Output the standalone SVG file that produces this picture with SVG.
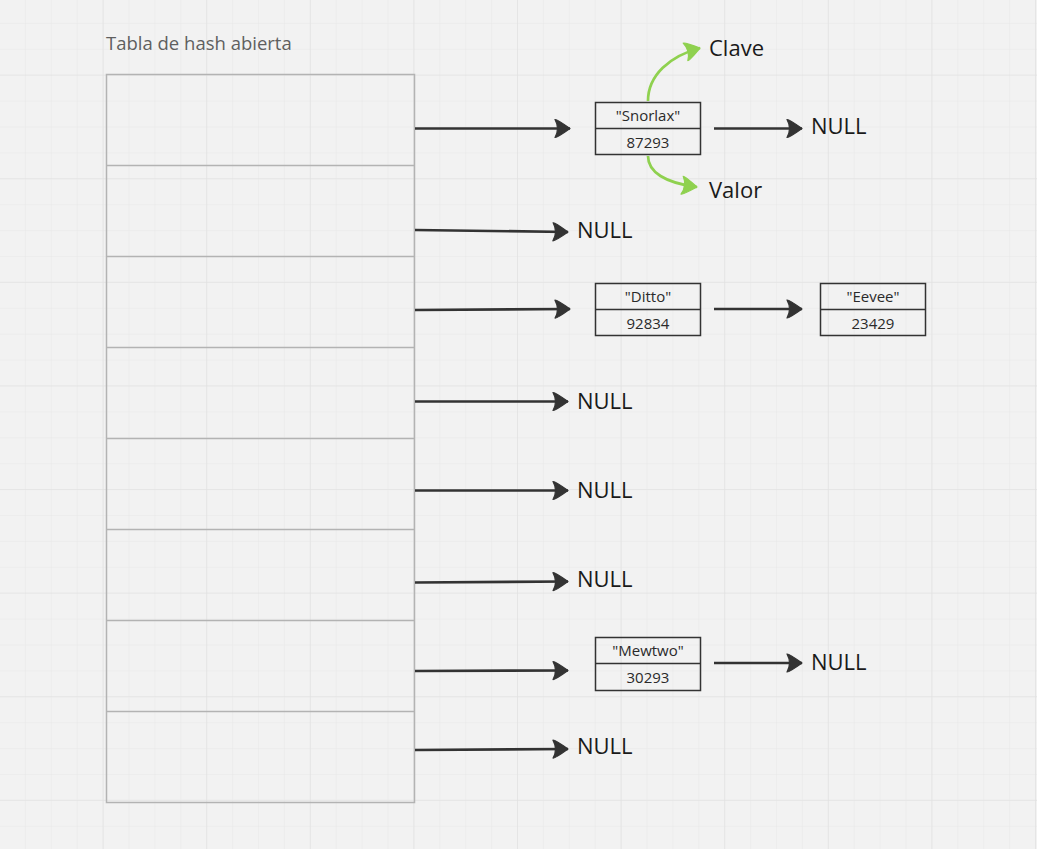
<svg xmlns="http://www.w3.org/2000/svg" width="1037" height="849" viewBox="0 0 1037 849">
<defs>
<pattern id="minor" width="25.9" height="25.9" patternUnits="userSpaceOnUse" x="0" y="-2">
<path d="M25.9 0V25.9M0 25.9H25.9" fill="none" stroke="#e8e8e8" stroke-width="1"/>
</pattern>
<pattern id="major" width="103.6" height="103.6" patternUnits="userSpaceOnUse" x="0" y="-28">
<path d="M103.6 0V103.6M0 103.6H103.6" fill="none" stroke="#e0e0e0" stroke-width="1.2"/>
</pattern>
<marker id="ah" markerUnits="userSpaceOnUse" markerWidth="20" markerHeight="22" refX="16" refY="10" orient="auto" viewBox="-1 -1 20 22">
<path d="M1 1Q2 0 16 10Q2 20 1 19Q6 10 1 1Z" fill="#333" stroke="#333" stroke-width="1.2" stroke-linejoin="round"/>
</marker>
<marker id="ahg" markerUnits="userSpaceOnUse" markerWidth="20" markerHeight="22" refX="16" refY="10" orient="auto" viewBox="-1 -1 20 22">
<path d="M1 1Q2 0 16 10Q2 20 1 19Q6 10 1 1Z" fill="#8fd14f" stroke="#8fd14f" stroke-width="1.2" stroke-linejoin="round"/>
</marker>
</defs>
<style>
.cell{fill:none;stroke:#b3b3b3;stroke-width:1.5}
.box{fill:none;stroke:#333;stroke-width:1.5}
.lbl{font-family:"Open Sans","Noto Sans",sans-serif;font-size:15px;fill:#2a2a2a;text-anchor:middle}
.nul{font-family:"Open Sans","Noto Sans",sans-serif;font-size:22px;fill:#1a1a1a}
.title{font-family:"Open Sans","Noto Sans",sans-serif;font-size:18.5px;fill:#5f5f5f}
.arr{fill:none;stroke:#333;stroke-width:2.7;marker-end:url(#ah)}
.garr{fill:none;stroke:#8fd14f;stroke-width:2.7;marker-end:url(#ahg)}
</style>
<rect width="1037" height="849" fill="#f2f2f2"/>
<rect width="1037" height="849" fill="url(#minor)"/>
<rect width="1037" height="849" fill="url(#major)"/>
<text class="title" x="106" y="50">Tabla de hash abierta</text>
<g id="table">
<rect class="cell" x="106.5" y="74.5" width="308" height="728"/>
<path class="cell" d="M106.5 165.5H414.5M106.5 256.5H414.5M106.5 347.5H414.5M106.5 438.5H414.5M106.5 529.5H414.5M106.5 620.5H414.5M106.5 711.5H414.5"/>
</g>
<g id="node-snorlax">
<rect class="box" x="595.5" y="102.5" width="105" height="52"/>
<line class="box" x1="595.5" y1="128.5" x2="700.5" y2="128.5" stroke-width="2"/>
<text class="lbl" x="648" y="121">"Snorlax"</text>
<text class="lbl" x="648" y="148">87293</text>
</g>
<g id="node-ditto">
<rect class="box" x="595.5" y="283.5" width="105" height="52"/>
<line class="box" x1="595.5" y1="309.5" x2="700.5" y2="309.5" stroke-width="2"/>
<text class="lbl" x="648" y="302">"Ditto"</text>
<text class="lbl" x="648" y="329">92834</text>
</g>
<g id="node-eevee">
<rect class="box" x="820.5" y="283.5" width="105" height="52"/>
<line class="box" x1="820.5" y1="309.5" x2="925.5" y2="309.5" stroke-width="2"/>
<text class="lbl" x="873" y="302">"Eevee"</text>
<text class="lbl" x="873" y="329">23429</text>
</g>
<g id="node-mewtwo">
<rect class="box" x="595.5" y="637.5" width="105" height="53"/>
<line class="box" x1="595.5" y1="663.5" x2="700.5" y2="663.5" stroke-width="2"/>
<text class="lbl" x="648" y="656">"Mewtwo"</text>
<text class="lbl" x="648" y="683">30293</text>
</g>
<g id="labels">
<text class="nul" x="811" y="134">NULL</text>
<text class="nul" x="577" y="238">NULL</text>
<text class="nul" x="577" y="409">NULL</text>
<text class="nul" x="577" y="498">NULL</text>
<text class="nul" x="577" y="587">NULL</text>
<text class="nul" x="811" y="670">NULL</text>
<text class="nul" x="577" y="754">NULL</text>
<text class="nul" x="709" y="56">Clave</text>
<text class="nul" x="709" y="198">Valor</text>
</g>
<g id="connectors">
<path class="arr" d="M415 128.5L570 128.5"/>
<path class="arr" d="M415 230L568 232"/>
<path class="arr" d="M415 310L570 309"/>
<path class="arr" d="M415 401.5L568 401.5"/>
<path class="arr" d="M415 490.5L568 490.5"/>
<path class="arr" d="M415 582.5L568 581.5"/>
<path class="arr" d="M415 671L568 670.5"/>
<path class="arr" d="M415 750L568 749"/>
<path class="arr" d="M714 128.5L802 128.5"/>
<path class="arr" d="M714 309L802 309"/>
<path class="arr" d="M714 663L802 663"/>
<path class="garr" d="M648 101C648 75 670 56 700 48"/>
<path class="garr" d="M648 156C648 172 665 183 697 187"/>
</g>
</svg>
